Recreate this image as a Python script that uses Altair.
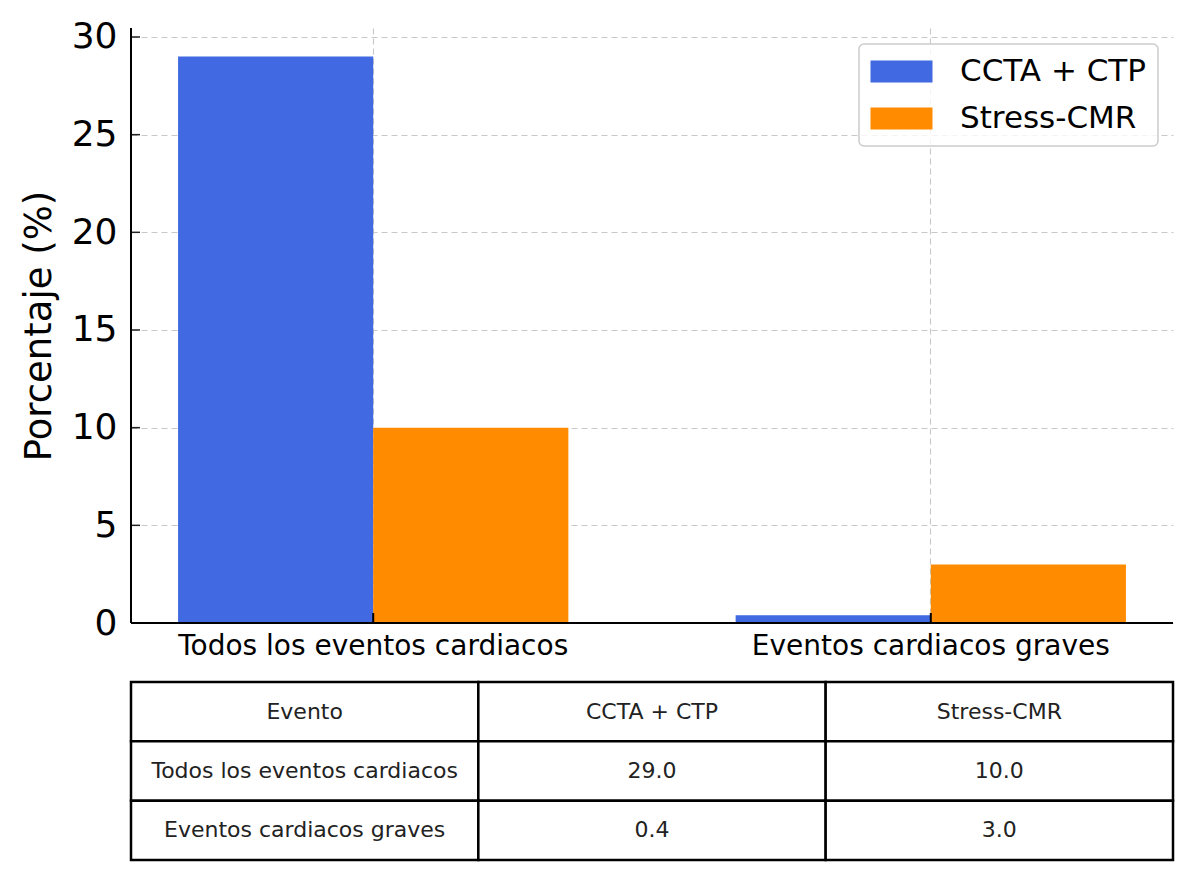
import altair as alt
import pandas as pd

# ---- data ----
categories = ["Todos los eventos cardiacos", "Eventos cardiacos graves"]
series = ["CCTA + CTP", "Stress-CMR"]
ccta_values = [29.0, 0.4]
cmr_values = [10.0, 3.0]
colors = ["#4169E1", "#FF8C00"]
y_ticks = [0, 5, 10, 15, 20, 25, 30]
table_header = ["Evento", "CCTA + CTP", "Stress-CMR"]
row_keys = ["h", "r1", "r2"]

rows = []
for i, c in enumerate(categories):
    rows.append({"evento": c, "serie": series[0], "valor": ccta_values[i]})
    rows.append({"evento": c, "serie": series[1], "valor": cmr_values[i]})
bars_df = pd.DataFrame(rows)

cells = []
for j, h in enumerate(table_header):
    cells.append({"row": row_keys[0], "col": h, "txt": h})
for i, c in enumerate(categories):
    vals = [c, f"{ccta_values[i]:.1f}", f"{cmr_values[i]:.1f}"]
    for j, h in enumerate(table_header):
        cells.append({"row": row_keys[i + 1], "col": h, "txt": vals[j]})
table_df = pd.DataFrame(cells)

W, H = 1042, 595
FONT = "DejaVu Sans"

x_scale = alt.Scale(domain=categories, paddingInner=0.3, paddingOuter=0.0844)
y_scale = alt.Scale(domain=[0, 30.46], nice=False, zero=True)
grid_kw = dict(gridColor="#c8c8c8", gridDash=[6, 4], gridWidth=1.1, grid=True)

x_axis = alt.Axis(title="", labelAngle=0, labelFontSize=28, labelColor="black",
                  labelPadding=9, ticks=False, tickSize=0, domain=False,
                  labelLimit=800, labelFont=FONT, **grid_kw)
y_axis = alt.Axis(values=y_ticks, title="Porcentaje (%)", titleFontSize=37,
                  titleFontWeight="normal", titleColor="black", titleFont=FONT,
                  titleAngle=270, titleX=-81, titleY=H / 2, titleAlign="center",
                  titleBaseline="alphabetic", titleLimit=800,
                  labelFontSize=36, labelColor="black", labelFont=FONT,
                  labelPadding=14, ticks=False, tickSize=0, domain=False, **grid_kw)

bars = alt.Chart(bars_df).mark_bar().encode(
    x=alt.X("evento:N", scale=x_scale, sort=categories, axis=x_axis),
    y=alt.Y("valor:Q", scale=y_scale, axis=y_axis),
    xOffset=alt.XOffset("serie:N", sort=series,
                        scale=alt.Scale(domain=series, paddingInner=0, paddingOuter=0)),
    color=alt.Color("serie:N", scale=alt.Scale(domain=series, range=colors),
                    legend=alt.Legend(title=None, orient="none", legendX=728, legendY=16,
                                      direction="vertical", padding=12,
                                      fillColor="rgba(255,255,255,0.8)",
                                      strokeColor="#cccccc", cornerRadius=5,
                                      labelFontSize=31, labelColor="black", labelFont=FONT,
                                      labelOffset=58, labelLimit=400,
                                      symbolType="M-1.4545,-1L4.1818,-1L4.1818,1L-1.4545,1Z",
                                      symbolSize=484, symbolStrokeWidth=0, symbolOpacity=1,
                                      rowPadding=15)),
)

ytick_layer = alt.Chart(pd.DataFrame({"valor": y_ticks})).mark_rule(
    color="#222222", strokeWidth=1.5).encode(
    y=alt.Y("valor:Q", scale=y_scale, axis=y_axis),
    x=alt.value(0), x2=alt.value(9))

xtick_layer = alt.Chart(pd.DataFrame({"evento": categories})).mark_rule(
    color="black", strokeWidth=2).encode(
    x=alt.X("evento:N", scale=x_scale, sort=categories, axis=x_axis),
    y=alt.value(H), y2=alt.value(H - 10))

spine_df = pd.DataFrame({"k": [0]})
left_spine = alt.Chart(spine_df).mark_rule(color="black", strokeWidth=2).encode(
    x=alt.value(0), y=alt.value(0), y2=alt.value(H))
bottom_spine = alt.Chart(spine_df).mark_rule(color="black", strokeWidth=2).encode(
    x=alt.value(0), x2=alt.value(W), y=alt.value(H))

top = alt.layer(bars, ytick_layer, xtick_layer, left_spine, bottom_spine).properties(
    width=W, height=H)

tbase = alt.Chart(table_df).encode(
    x=alt.X("col:N", sort=table_header, axis=None,
            scale=alt.Scale(paddingInner=0, paddingOuter=0)),
    y=alt.Y("row:N", sort=row_keys, axis=None,
            scale=alt.Scale(paddingInner=0, paddingOuter=0)),
)
trect = tbase.mark_rect(fill="white", stroke="black", strokeWidth=2.5)
ttext = tbase.mark_text(fontSize=22, color="#222222", font=FONT).encode(text="txt:N")
table = alt.layer(trect, ttext).properties(width=W, height=178)

chart = alt.vconcat(top, table, spacing=20).properties(
    padding={"left": 20, "top": 18, "right": 5, "bottom": 5},
    background="white",
).configure(font=FONT).configure_view(stroke=None).configure_legend(strokeWidth=1.5)

chart.save("out.html", embed_options={"renderer": "svg", "actions": False})
